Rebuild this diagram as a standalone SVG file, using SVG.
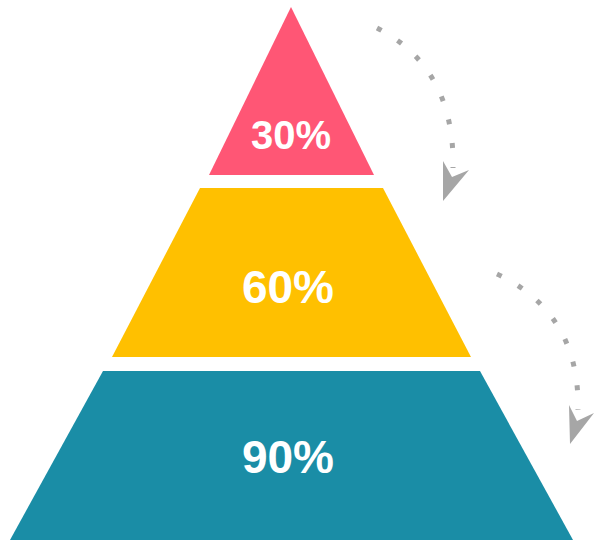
<svg xmlns="http://www.w3.org/2000/svg" width="594" height="541" viewBox="0 0 594 541">
<style>
.lbl{font-family:"Liberation Sans",Arial,sans-serif;font-weight:bold;fill:#ffffff;text-anchor:middle}
.dots{fill:none;stroke:#A6A6A6;stroke-width:5;stroke-dasharray:5 19;stroke-linecap:butt}
.head{fill:#A6A6A6}
</style>
<rect width="594" height="541" fill="#ffffff"/>
<g id="tier-top">
<polygon points="291,7 374,175 209,175" fill="#FF5675"/>
<text class="lbl" x="291" y="149" font-size="40">30%</text>
</g>
<g id="tier-middle">
<polygon points="200,188 383,188 471,357 112,357" fill="#FFC000"/>
<text class="lbl" x="288" y="303" font-size="46">60%</text>
</g>
<g id="tier-bottom">
<polygon points="103,371 480,371 573,540 10,540" fill="#1A8DA6"/>
<text class="lbl" x="288" y="473" font-size="46">90%</text>
</g>
<g id="connectors">
<path class="dots" d="M377,28 Q455,68 453,168"/>
<polygon class="head" points="443,201 443,161 452,177 469,170"/>
<path class="dots" d="M497,274 Q580,313 578,410"/>
<polygon class="head" points="570,444 569,405 577,421 594,413"/>
</g>
</svg>
